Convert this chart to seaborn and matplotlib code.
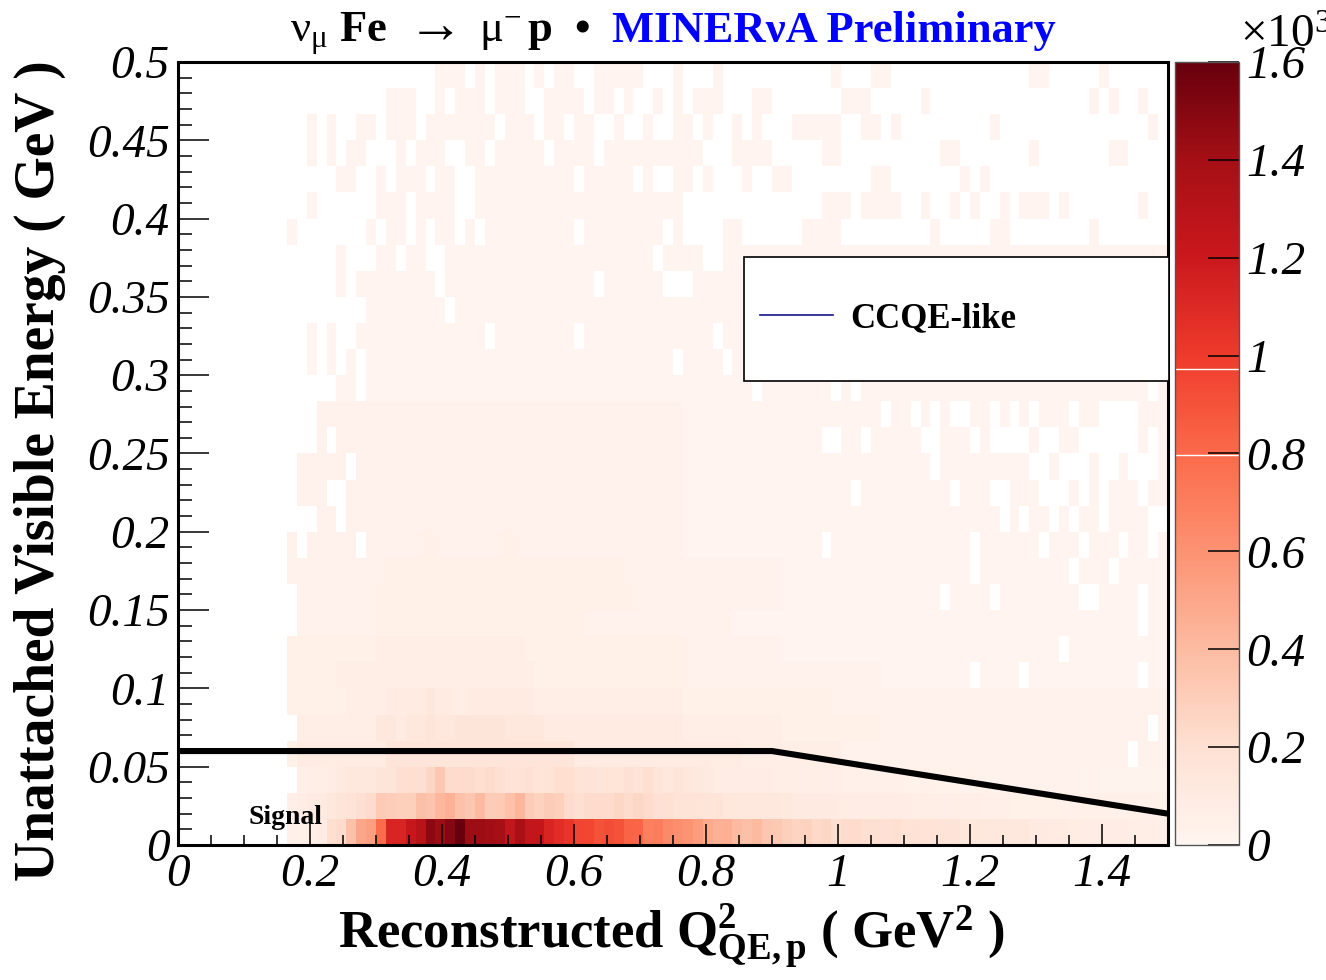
import numpy as np
import pandas as pd
import matplotlib
matplotlib.use("Agg")
import matplotlib.pyplot as plt
import seaborn as sns
from matplotlib.lines import Line2D
from matplotlib.patches import Rectangle
from matplotlib.ticker import FixedLocator, MultipleLocator, FuncFormatter

# ---------------------------------------------------------------- binning
Q2_RANGE = (0.0, 1.5)      # GeV^2
EVIS_RANGE = (0.0, 0.5)    # GeV
N_Q2_BINS = 100
N_EVIS_BINS = 30

# ---------------------------------------------------------------- event counts
# Lowest three visible-energy rows, one count per Q2 bin
ROW0_COUNTS = [0] * 11 + [
    40, 50, 60, 80, 210, 230, 370, 500, 540,
    790, 1130, 1130, 1230, 1300, 1480, 1420, 1500, 1600, 1420,
    1420, 1410, 1390, 1250, 1380, 1250, 1240, 1130, 1080, 1040,
    960, 950, 900, 930, 900, 830, 820, 690, 700, 640,
    620, 590, 550, 490, 450, 460, 400, 380, 400, 340,
    330, 290, 270, 280, 240, 250, 200, 220, 230, 200,
    200, 190, 210, 180, 185, 180, 175, 170, 165, 140,
    140, 135, 130, 125, 120, 120, 110, 100, 95, 95,
    90, 85, 85, 80, 80, 75, 70, 70, 65, 60]
ROW1_COUNTS = [0] * 11 + [
    60, 80, 100, 110, 130, 150, 170, 200, 230,
    320, 300, 290, 290, 380, 350, 420, 450, 370, 340,
    400, 310, 320, 370, 430, 310, 280, 310, 290, 230,
    200, 220, 230, 220, 250, 220, 250, 230, 190, 195,
    180, 170, 175, 155, 170, 140, 130, 130, 125, 120,
    120, 115, 110, 110, 105, 100, 95, 90, 85, 85,
    85, 80, 85, 75, 70, 70, 72, 68, 70, 65,
    65, 60, 58, 60, 55, 55, 52, 50, 52, 48,
    48, 45, 46, 44, 42, 44, 40, 40, 38, 36]
ROW2_COUNTS = [0] * 11 + [
    0, 60, 65, 70, 75, 110, 120, 125, 130,
    150, 150, 200, 210, 200, 250, 340, 220, 230, 220,
    210, 220, 200, 180, 175, 190, 160, 170, 210, 210,
    170, 165, 150, 160, 160, 190, 165, 210, 150, 125,
    150, 120, 115, 100, 90, 85, 80, 80, 75, 78,
    72, 70, 72, 68, 70, 66, 65, 45, 42, 40,
    40, 38, 40, 36, 35, 38, 34, 32, 35, 30,
    32, 30, 30, 28, 30, 28, 26, 28, 25, 26,
    25, 24, 25, 22, 24, 22, 20, 22, 20, 20]

# Remaining rows (top row first): coarse count level per Q2 bin, '.' = empty
LEVEL_COUNTS = {".": 0, "1": 10, "2": 30, "3": 50, "4": 70,
                "5": 95, "6": 120, "7": 150}
UPPER_ROWS = [
    ".......... .......... ......111. 1.111.1.11 ..11111... 1...1..... ......1... 11........ ......11.. ...1......",
    ".......... .......... .111..1.11 1.111..111 1.11.1..1. 1.111...11 .......111 .....1.... .......... ..1.1..1..",
    ".......... ...1.1..11 .111.11111 11.111.11. 11..1..1.. 11.1..1.1. ..11111..1 1.1....... ..1....... ........1.",
    ".......... ...1.1.11. ..1.111..1 1.11111.11 11.1111111 111...1111 .....11... .......11. ......1... ....11....",
    ".......... ......11.. 1.111.11.. 1111111111 .11111.1.. 11.1...1.. 11........ 11.......1 .1........ ..........",
    ".......... ...1...... 111.1111.. 1111111111 1111111111 1......... .....111.1 111..1..1. 1..1.111.1 .......1..",
    ".......... .1.......1 .11.1.11.1 .111111111 .11111111. 1....11... ...1111... ......1... ..11...... ..1.......",
    ".......... ......1... 11.11..111 1111111111 11111111.1 111..11111 1111111111 1111111111 1111111111 1111111111",
    ".......... ......1.11 111111.111 1111111111 11.111111. ..11111111 1111111111 1111111111 1111111111 1111111111",
    ".......... .........1 1111111.11 1111111111 1111111111 1111111111 1111111111 1111111111 1111111111 1111111111",
    ".......... ...1.1..11 1111111111 1.11111111 .111111111 1111.11111 1111111111 1111111111 1111111111 1111111111",
    ".......... ...1.1.1.1 1111111111 1111111111 1111111111 .1111.1111 1111111111 1111111111 1111111111 1111111111",
    ".......... ......11.1 1111111111 1111111111 1111111111 11111111.1 111111.1.1 1111111111 1111111111 11111111.1",
    ".......... ....222222 2222222222 2222222222 2222222222 2111111111 1111111111 1.11.1.1.. 11.1.1.111 .11....111",
    ".......... ....2.2222 2222222222 2222222222 2222222222 2111111111 11111..11. 11111..111 .1....1..1 1......1.1",
    ".......... ..22222.22 2222222222 2222222222 2222222222 2111111111 1111111111 111111.111 111111..1. ..1..1...1",
    ".......... ..222..222 2222222222 2222222222 2222222222 2111111111 11111111.1 11111111.1 11..111... 1.1.111.11",
    ".......... ....22.222 2222222222 2222222222 2222222222 2111111111 1111111111 1111111111 111.1.11.1 .11.1111..",
    ".......... .2.22222.2 2222232222 2223222222 2222222222 2111111111 11111.1111 1111111111 .111111.11 1.111.11.1",
    ".......... .222222222 2333333333 3333333333 3333322222 2222222222 2111111111 1111111111 .111111111 .111.11111",
    ".......... ..22222222 3333333333 3333333333 3333332222 2222222222 2111111111 1111111.11 11.1111111 1..1111.11",
    ".......... ..22222222 3333333333 3333333333 3222222222 2222221111 1111111111 1111111111 1111111111 1111111.11",
    ".......... .333333333 4444444444 4444433333 3333333333 3222222222 2111111111 1111111111 111111111. 1111111111",
    ".......... .333334444 4444444444 4444443333 3333333333 3222222222 2222222222 2111111111 .1111.1111 1111111.11",
    ".......... .333333444 4555565545 5555554444 4444444444 4333333333 3333332222 2222222222 2222222222 2222222222",
    ".......... ..44444444 6656676677 7776666555 5555555555 5444444444 4333333333 3222222222 2222222222 22222222.2",
    ".......... .355555555 5777777777 7777777777 5555555555 5555555444 4444444222 2222222222 2222222222 222222.222",
]

# Selection cut drawn over the histogram
CUT_Q2 = [0.0, 0.9, 1.5]
CUT_EVIS = [0.06, 0.06, 0.02]

COLOR_MAX = 1600
CBAR_TICKS = [0, 200, 400, 600, 800, 1000, 1200, 1400, 1600]
CBAR_BANDS = [797, 973]

# ---------------------------------------------------------------- table
grid = np.zeros((N_EVIS_BINS, N_Q2_BINS))
grid[0] = ROW0_COUNTS
grid[1] = ROW1_COUNTS
grid[2] = ROW2_COUNTS
for i, row in enumerate(UPPER_ROWS):
    cells = row.replace(" ", "")
    assert len(cells) == N_Q2_BINS, (i, len(cells))
    grid[N_EVIS_BINS - 1 - i] = [LEVEL_COUNTS[c] for c in cells]

q2_edges = np.linspace(*Q2_RANGE, N_Q2_BINS + 1)
ev_edges = np.linspace(*EVIS_RANGE, N_EVIS_BINS + 1)
q2_c = 0.5 * (q2_edges[:-1] + q2_edges[1:])
ev_c = 0.5 * (ev_edges[:-1] + ev_edges[1:])
QQ, EE = np.meshgrid(q2_c, ev_c)
df = pd.DataFrame({"q2": QQ.ravel(), "evis": EE.ravel(), "events": grid.ravel()})

# ---------------------------------------------------------------- style
plt.rcParams["font.family"] = ["Liberation Serif", "DejaVu Serif"]
plt.rcParams["mathtext.fontset"] = "custom"
plt.rcParams["mathtext.rm"] = "Liberation Serif"
plt.rcParams["mathtext.it"] = "Liberation Serif:italic"
plt.rcParams["mathtext.bf"] = "Liberation Serif:bold"

W, H = 1326, 980
fig = plt.figure(figsize=(W / 100, H / 100), dpi=100)
ax = fig.add_axes([178 / W, 135 / H, 990 / W, 783 / H])
cax = fig.add_axes([1175 / W, 135 / H, 64 / W, 783 / H])

sns.histplot(
    data=df, x="q2", y="evis", weights="events",
    bins=(N_Q2_BINS, N_EVIS_BINS), binrange=(Q2_RANGE, EVIS_RANGE),
    cmap="Reds", vmin=0, vmax=COLOR_MAX,
    cbar=True, cbar_ax=cax, ax=ax,
)
mesh = ax.collections[0]
cbar = mesh.colorbar

ax.plot(CUT_Q2, CUT_EVIS, color="black", lw=4.4, solid_capstyle="butt", zorder=4)

ax.text(0.107, 0.0135, "Signal", fontsize=20, fontweight="bold",
        ha="left", va="baseline", zorder=5)

ax.set_xlim(*Q2_RANGE)
ax.set_ylim(*EVIS_RANGE)

# axes, ticks
fmt = FuncFormatter(lambda v, p: "%g" % round(v, 3))
ax.xaxis.set_major_locator(MultipleLocator(0.2))
ax.xaxis.set_minor_locator(MultipleLocator(0.05))
ax.yaxis.set_major_locator(MultipleLocator(0.05))
ax.yaxis.set_minor_locator(MultipleLocator(0.01))
ax.xaxis.set_major_formatter(fmt)
ax.yaxis.set_major_formatter(fmt)
ax.tick_params(axis="both", which="both", direction="in", width=1.1, color="black",
               top=False, right=False, labelsize=34)
ax.tick_params(axis="y", which="major", length=22, pad=6)
ax.tick_params(axis="y", which="minor", length=10)
ax.tick_params(axis="x", which="major", length=15, pad=6)
ax.tick_params(axis="x", which="minor", length=7.5)
for lab in ax.get_xticklabels() + ax.get_yticklabels():
    lab.set_fontstyle("italic")
for sp in ax.spines.values():
    sp.set_linewidth(2.2)
    sp.set_color("black")
    sp.set_visible(True)

ax.set_xlabel(r"Reconstructed Q$^{\mathbf{2}}_{\mathbf{QE,p}}$ ( GeV$^{\mathbf{2}}$ )",
              fontsize=38, fontweight="bold")
ax.xaxis.set_label_coords(0.4985, -0.1315)
ax.xaxis.label.set_va("baseline")
ax.set_ylabel("Unattached Visible Energy ( GeV )", fontsize=40, fontweight="bold")
ax.yaxis.set_label_coords(-0.139, 0.478)
ax.yaxis.label.set_va("center")

# legend: white box with the entry centred vertically inside it
box = Rectangle((0.5717, 0.5926), 0.4293, 0.1584, transform=ax.transAxes,
                facecolor="white", edgecolor="black", lw=1.2, zorder=5,
                clip_on=False)
ax.add_patch(box)
handle = Line2D([], [], color="#14148c", lw=1.2)
leg = ax.legend([handle], ["CCQE-like"], loc="center left",
                bbox_to_anchor=(0.5879, 0.6718), frameon=False,
                borderaxespad=0, borderpad=0, handlelength=2.1,
                handletextpad=0.5,
                prop={"weight": "bold", "size": 25, "family": "Liberation Serif"})
leg.set_zorder(6)

# colour bar
cax.yaxis.set_ticks_position("right")
cax.yaxis.set_major_locator(FixedLocator(CBAR_TICKS))
cax.yaxis.set_minor_locator(FixedLocator([]))
cax.yaxis.set_major_formatter(FuncFormatter(lambda v, p: "%g" % round(v / 1000, 3)))
cax.tick_params(axis="y", direction="in", length=22, width=1.1, pad=5, labelsize=34)
for lab in cax.get_yticklabels():
    lab.set_fontstyle("italic")
for v in CBAR_BANDS:
    cax.axhline(v, color="white", lw=1.0)
if cbar is not None:
    cbar.outline.set_linewidth(1.0)
    cbar.outline.set_edgecolor("#555555")
fig.text(1240 / W, 1 - 48 / H, r"$\times\mathit{10}^{\mathit{3}}$", fontsize=34,
         ha="left", va="baseline")

# title
title_y = 1 - 42 / H
fig.text(290 / W, title_y, r"$\mathrm{\nu}_{\mathrm{\mu}}$ Fe",
         fontsize=32, fontweight="bold", ha="left", va="baseline")
fig.text(435 / W, 1 - 29 / H, "→", fontsize=40, ha="center", va="center")
fig.text(479 / W, title_y, r"$\mathrm{\mu}^{\mathrm{-}}\,$p  •",
         fontsize=32, fontweight="bold", ha="left", va="baseline")
fig.text(612 / W, title_y, "MINERνA Preliminary", fontsize=32,
         fontweight="bold", color="#0000ff", ha="left", va="baseline")

fig.savefig("out.png", dpi=100, facecolor="white")
